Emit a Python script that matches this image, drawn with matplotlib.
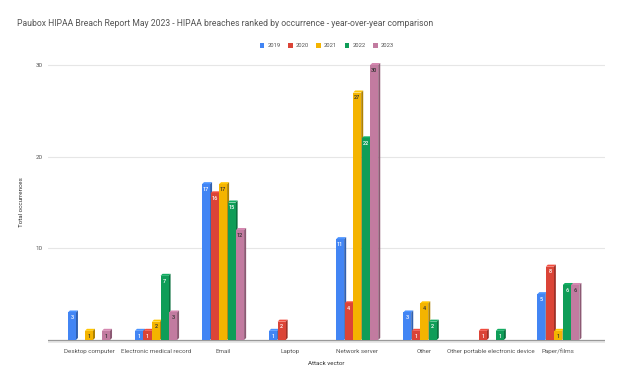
import numpy as np
import matplotlib.pyplot as plt
from matplotlib.colors import to_rgb

plt.rcParams['font.family'] = ['Roboto', 'DejaVu Sans']

categories = ["Desktop computer", "Electronic medical record", "Email", "Laptop",
              "Network server", "Other", "Other portable electronic device", "Paper/films"]
years = ["2019", "2020", "2021", "2022", "2023"]
v2019 = [3, 1, 17, 1, 11, 3, 0, 5]
v2020 = [0, 1, 16, 2, 4, 1, 1, 8]
v2021 = [1, 2, 17, 0, 27, 4, 0, 1]
v2022 = [0, 7, 15, 0, 22, 2, 1, 6]
v2023 = [1, 3, 12, 0, 30, 0, 0, 6]
series = [v2019, v2020, v2021, v2022, v2023]
colors = ["#4285F4", "#DB4437", "#F4B400", "#0F9D58", "#C27BA0"]
label_colors = ["white", "white", "#333333", "white", "#333333"]

title = "Paubox HIPAA Breach Report May 2023 - HIPAA breaches ranked by occurrence - year-over-year comparison"


def shade(c, f):
    r, g, b = to_rgb(c)
    return tuple(min(1.0, k * f) for k in (r, g, b))


fig = plt.figure(figsize=(6.24, 3.85), dpi=100)
ax = fig.add_axes([0.077, 0.105, 0.893, 0.738])

x = np.arange(len(categories))
step = 0.127
width = 0.12
dx = 0.03   # depth offset in x
dy = 0.22   # depth offset in y

for i, (vals, col) in enumerate(zip(series, colors)):
    off = (i - 2) * step
    for xi, v in zip(x, vals):
        if v == 0:
            continue
        left = xi + off - width / 2
        right = left + width
        # top face
        ax.fill([left, right, right + dx, left + dx], [v, v, v + dy, v + dy],
                color=shade(col, 1.1), lw=0, zorder=2 + i)
        # side face
        ax.fill([right, right + dx, right + dx, right], [0, dy, v + dy, v],
                color=shade(col, 0.72), lw=0, zorder=2 + i)
    xs = [xi + off for xi, v in zip(x, vals) if v > 0]
    hs = [v for v in vals if v > 0]
    ax.bar(xs, hs, width=width, color=col, zorder=2.5 + i, label=years[i])
    for xx, h in zip(xs, hs):
        ax.text(xx, h - 0.3, str(h), ha='center', va='top', fontsize=4,
                color=label_colors[i], fontweight='medium', zorder=10)

# floor and gridlines
ax.fill_between([-0.61, 7.7], -0.35, 0, color="#e8e8e8", lw=0, zorder=0.5)
ax.axhline(0, color="#999999", lw=0.9, zorder=1)
for g in [10, 20, 30]:
    ax.axhline(g, color="#e6e6e6", lw=0.8, zorder=0)

ax.set_xlim(-0.61, 7.7)
ax.set_ylim(-0.5, 30.5)
ax.set_yticks([10, 20, 30])
ax.set_yticklabels(["10", "20", "30"])
ax.set_xticks(x)
ax.set_xticklabels(categories)
ax.tick_params(axis='both', length=0, labelsize=4.5, labelcolor="#555555")
ax.tick_params(axis='y', pad=4)
ax.tick_params(axis='x', pad=3)
for s in ax.spines.values():
    s.set_visible(False)

ax.set_xlabel("Attack vector", fontsize=4.5, color="#333333", labelpad=5)
ax.set_ylabel("Total occurrences", fontsize=4.5, color="#333333", labelpad=8)

fig.text(0.028, 0.938, title, fontsize=6.2, color="#555555", va='center', ha='left')

leg = ax.legend(loc='center', bbox_to_anchor=(0.5, 1.052), ncol=5, frameon=False,
                fontsize=4.2, handlelength=0.8, handleheight=0.8, columnspacing=1.3,
                handletextpad=0.5)
for t in leg.get_texts():
    t.set_color("#555555")

fig.savefig("out.png", dpi=100)
